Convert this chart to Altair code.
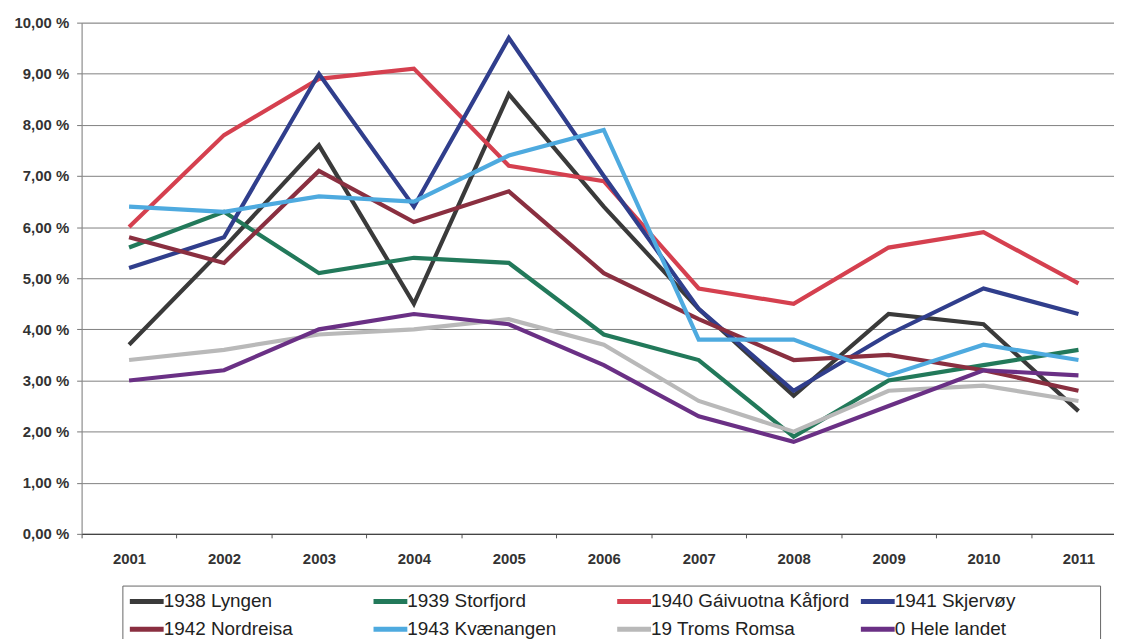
import altair as alt
import pandas as pd

years = ["2001", "2002", "2003", "2004", "2005", "2006", "2007", "2008", "2009", "2010", "2011"]

series_names = [
    "1938 Lyngen",
    "1939 Storfjord",
    "1940 Gáivuotna Kåfjord",
    "1941 Skjervøy",
    "1942 Nordreisa",
    "1943 Kvænangen",
    "19 Troms Romsa",
    "0 Hele landet",
]

lyngen = [3.7, 5.6, 7.6, 4.5, 8.6, 6.4, 4.4, 2.7, 4.3, 4.1, 2.4]
storfjord = [5.6, 6.3, 5.1, 5.4, 5.3, 3.9, 3.4, 1.9, 3.0, 3.3, 3.6]
kaafjord = [6.0, 7.8, 8.9, 9.1, 7.2, 6.9, 4.8, 4.5, 5.6, 5.9, 4.9]
skjervoy = [5.2, 5.8, 9.0, 6.4, 9.7, 7.0, 4.4, 2.8, 3.9, 4.8, 4.3]
nordreisa = [5.8, 5.3, 7.1, 6.1, 6.7, 5.1, 4.2, 3.4, 3.5, 3.2, 2.8]
kvaenangen = [6.4, 6.3, 6.6, 6.5, 7.4, 7.9, 3.8, 3.8, 3.1, 3.7, 3.4]
troms = [3.4, 3.6, 3.9, 4.0, 4.2, 3.7, 2.6, 2.0, 2.8, 2.9, 2.6]
hele_landet = [3.0, 3.2, 4.0, 4.3, 4.1, 3.3, 2.3, 1.8, 2.5, 3.2, 3.1]

series_values = [lyngen, storfjord, kaafjord, skjervoy, nordreisa, kvaenangen, troms, hele_landet]

colors = ["#3a3a3a", "#22795a", "#d5404f", "#303e8c", "#8a2f40", "#4eaadf", "#b9b9b9", "#6a3085"]

y_ticks = [0, 1, 2, 3, 4, 5, 6, 7, 8, 9, 10]

rows = []
for order, (name, vals) in enumerate(zip(series_names, series_values)):
    for yr, v in zip(years, vals):
        rows.append({"year": yr, "value": v, "series": name, "order": order})
df = pd.DataFrame(rows)

FONT = "Liberation Sans"

chart = (
    alt.Chart(df)
    .mark_line(strokeWidth=4.2, strokeJoin="miter", strokeCap="butt")
    .encode(
        x=alt.X(
            "year:O",
            scale=alt.Scale(type="band", domain=years, paddingInner=0, paddingOuter=0),
            axis=alt.Axis(
                title=None,
                labelAngle=0,
                labelFont=FONT,
                labelFontSize=15,
                labelFontWeight="bold",
                labelColor="#333333",
                labelPadding=14,
                tickBand="extent",
                tickSize=4,
                tickColor="#555555",
                domainColor="#444444",
                domainWidth=1.2,
                grid=False,
            ),
        ),
        y=alt.Y(
            "value:Q",
            scale=alt.Scale(domain=[0, 10], nice=False, zero=True),
            axis=alt.Axis(
                title=None,
                values=y_ticks,
                labelExpr="replace(format(datum.value, '.2f'), '.', ',') + ' %'",
                labelFont=FONT,
                labelFontSize=15,
                labelFontWeight="bold",
                labelColor="#333333",
                labelPadding=8,
                tickSize=5,
                tickColor="#777777",
                domainColor="#888888",
                grid=True,
                gridColor="#808080",
                gridWidth=1,
            ),
        ),
        color=alt.Color(
            "series:N",
            scale=alt.Scale(domain=series_names, range=colors),
            legend=alt.Legend(
                title="\u00a0",
                titleOrient="right",
                titlePadding=80,
                titleColor="transparent",
                titleFontSize=10,
                orient="none",
                legendX=41,
                legendY=566,
                direction="horizontal",
                columns=4,
                gridAlign="all",
                columnPadding=0,
                rowPadding=7,
                symbolType="M-2,0L2,0",
                symbolSize=289,
                symbolOffset=8.5,
                symbolStrokeWidth=5,
                labelFont=FONT,
                labelFontSize=19,
                labelColor="#222222",
                labelOffset=6,
                labelLimit=400,
                strokeColor="#666666",
                padding=5,
                fillColor="white",
            ),
        ),
        order=alt.Order("order:Q"),
    )
    .properties(
        width=1050,
        height=514,
        autosize=alt.AutoSizeParams(type="none"),
        padding={"left": 74, "top": 13, "right": -12, "bottom": 104},
    )
    .configure_view(stroke=None)
    .configure(background="white")
)

chart.save("out.html", embed_options={"renderer": "svg", "actions": False})
